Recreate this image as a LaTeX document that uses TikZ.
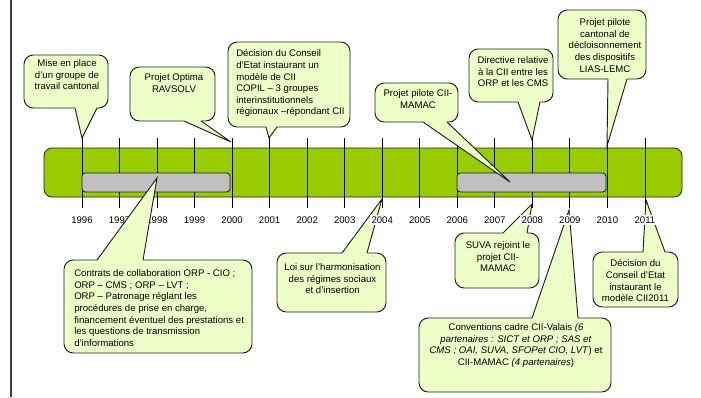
\documentclass[tikz,border=0pt]{standalone}
\usepackage{fontspec}
\setmainfont{Liberation Sans}
\definecolor{barg}{RGB}{153,204,0}
\definecolor{grayb}{RGB}{192,192,192}
\definecolor{callf}{RGB}{238,255,200}
\definecolor{linec}{RGB}{30,30,30}
\newcommand\cwedge[5]{%
  \fill[callf] (#1,#2) -- (#5) -- (#3,#2) -- (#3,#4) -- (#1,#4) -- cycle;
  \draw[callleg] (#1,#2) -- (#5) -- (#3,#2);}
\begin{document}
\begin{tikzpicture}[x=0.75pt,y=-0.75pt,
  every node/.style={font=\fontsize{7.2}{8.7}\selectfont, inner sep=0pt},
  calltext/.style={align=center, anchor=north},
  calltextl/.style={align=left, anchor=north west},
  callbox/.style={fill=callf, draw=linec, line width=0.7pt, rounded corners=7pt},
  callleg/.style={draw=linec, line width=0.7pt, line join=miter},
  yearlab/.style={fill=white, inner sep=1pt},
  tickline/.style={draw=black, line width=0.6pt}]
\useasboundingbox (0,0) rectangle (701,397);
\draw[black!75, line width=1.5pt] (11,0) -- (11,397);
% timeline bar
\filldraw[fill=barg, draw=linec, line width=0.6pt, rounded corners=6pt] (44,148) rectangle (682,197);
\foreach \i in {0,...,15} { \draw[tickline] ({82+\i*37.53},138) -- ({82+\i*37.53},208); }
\filldraw[fill=grayb, draw=linec, line width=0.6pt, rounded corners=2.5pt] (82,173) rectangle (230,192);
\filldraw[fill=grayb, draw=linec, line width=0.6pt, rounded corners=2.5pt] (457,173) rectangle (606,192);
% pointer tips
\coordinate (p1) at (82,138);
\coordinate (p2) at (231,142);
\coordinate (p3) at (269,138);
\coordinate (p4) at (510,182);
\coordinate (p5) at (532,140);
\coordinate (p6) at (607,146);
\coordinate (p7) at (157,178);
\coordinate (p8) at (382,199);
\coordinate (p9) at (532,204);
\coordinate (p10) at (646,200);
\coordinate (p11) at (569,210);
% top callouts
\draw[callbox] (24,55) rectangle (108,108); \cwedge{75}{108}{97}{105}{p1}
\node[calltext] (c1) at (67,59.5) {Mise en place\\d’un groupe de\\travail cantonal};
\draw[callbox] (130,67) rectangle (215,121); \cwedge{184}{121}{201}{118}{p2}
\node[calltext] (c2) at (174,73.5) {Projet Optima\\RAVSOLV};
\draw[callbox] (228,42) rectangle (350,127); \cwedge{266}{127}{277}{124}{p3}
\node[calltextl] (c3) at (236,49.5) {Décision du Conseil\\d’Etat instaurant un\\modèle de CII\\COPIL – 3 groupes\\interinstitutionnels\\régionaux –répondant CII};
\draw[callbox] (375,83) rectangle (458,122); \cwedge{423}{122}{447}{119}{p4}
\node[calltext] (c4) at (418,89.5) {Projet pilote CII-\\MAMAC};
\draw[callbox] (469,49) rectangle (553,102); \cwedge{518}{102}{540}{99}{p5}
\node[calltext] (c5) at (513,56.5) {Directive relative\\à la CII entre les\\ORP et les CMS};
\draw[callbox] (558,10) rectangle (646,79); \cwedge{608}{79}{627}{76}{p6}
\node[calltext] (c6) at (605,18.5) {Projet pilote\\cantonal de\\décloisonnement\\des dispositifs\\LIAS-LEMC};
% bottom callouts
\draw[callbox] (277,253) rectangle (386,312); \cwedge{342}{253}{367}{256}{p8}
\node[calltext] (c8) at (332.5,263.5) {Loi sur l’harmonisation\\des régimes sociaux\\et d’insertion};
\draw[callbox] (455,233) rectangle (539,288); \cwedge{503}{233}{527}{236}{p9}
\node[calltext] (c9) at (498,241.5) {SUVA rejoint le\\projet CII-\\MAMAC};
\draw[callbox] (593,252) rectangle (678,307); \cwedge{643}{252}{665}{255}{p10}
\node[calltext] (c10) at (635.5,259.5) {Décision du\\Conseil d’Etat\\instaurant le\\modèle CII2011};
\draw[callbox] (419,318) rectangle (611,392); \cwedge{532}{318}{578}{321}{p11}
\node[calltext] (c11) at (516,323.5) {Conventions cadre CII-Valais \textit{(6}\\\textit{partenaires : SICT et ORP ; SAS et}\\\textit{CMS ; OAI, SUVA, SFOPet CIO, LVT}) et\\CII-MAMAC \textit{(4 partenaires})};
% year labels
\foreach \yr [count=\i from 0] in {1996,...,2011} { \node[yearlab] (y\yr) at ({82+\i*37.53},220) {\yr}; }
% callout over labels
\draw[callbox] (64,260) rectangle (252,353); \cwedge{97}{260}{143}{263}{p7}
\node[calltextl] (c7) at (74,269.5) {Contrats de collaboration ORP - CIO ;\\ORP – CMS ; ORP – LVT ;\\ORP – Patronage réglant les\\procédures de prise en charge,\\financement éventuel des prestations et\\les questions de transmission\\d’informations};
\end{tikzpicture}
\end{document}
